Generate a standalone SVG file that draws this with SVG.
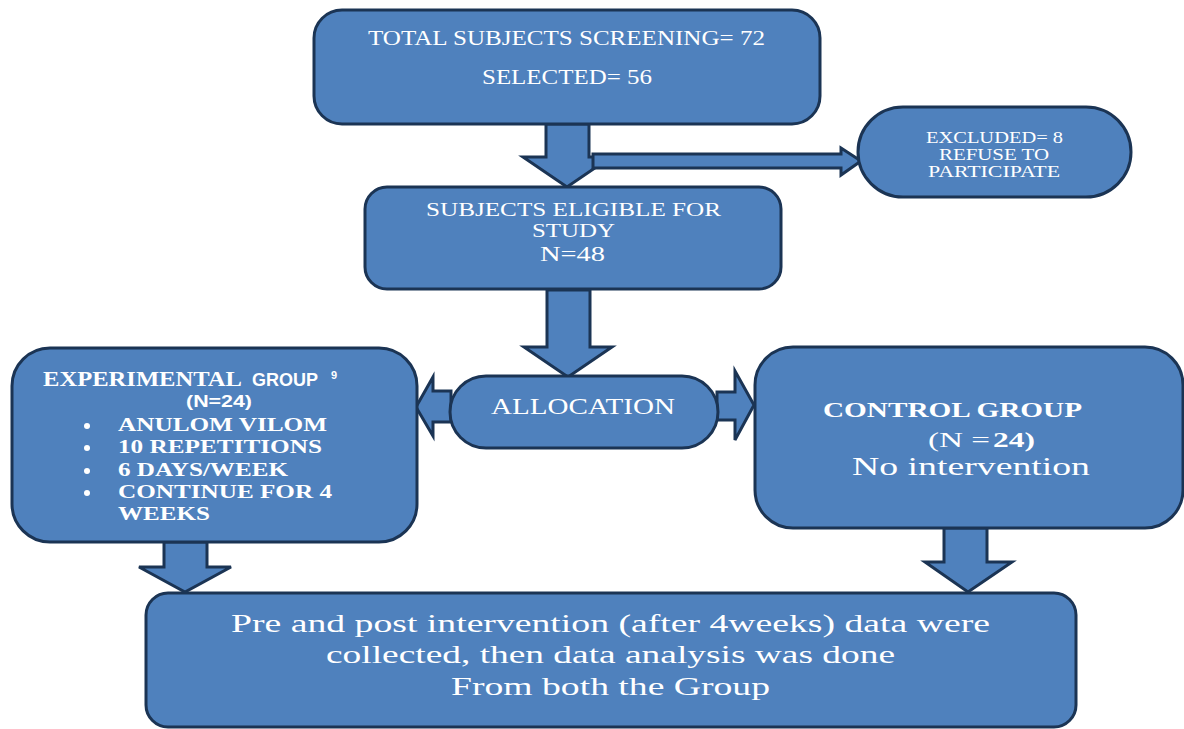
<svg xmlns="http://www.w3.org/2000/svg" width="1184" height="729" viewBox="0 0 1184 729">
<style>
.box{fill:#4F81BD;stroke:#1B3454;stroke-width:3}
.arr{fill:#4F81BD;stroke:#1B3454;stroke-width:3;stroke-linejoin:miter}
text{fill:#FFFFFF;font-family:"Liberation Serif","Times New Roman",serif}
.b{font-weight:bold}
.s{font-family:"Liberation Sans",Arial,sans-serif;font-weight:bold}
</style>
<rect width="1184" height="729" fill="#FFFFFF"/>
<g id="connectors">
<polygon class="arr" points="546,124 589,124 589,157 611,157 567,187 523,157 546,157"/>
<polygon class="arr" points="593,154 841,154 841,148 861,161 841,175 841,168 593,168"/>
<polygon class="arr" points="547,290 590,290 590,347 612,347 568,377 524,347 547,347"/>
<polygon class="arr" points="451,391 433,391 433,377 416,407 433,436 433,422 451,422"/>
<polygon class="arr" points="717,392 735,392 735,371 754,405 735,440 735,420 717,420"/>
<polygon class="arr" points="164,542 207,542 207,567 231,567 185,592 139,567 164,567"/>
<polygon class="arr" points="944,528 987,528 987,562 1012,562 968,592 925,562 944,562"/>
</g>
<g id="node-screening">
<rect class="box" x="314" y="10" width="506" height="114" rx="28"/>
<text x="368" y="45" font-size="20" textLength="397" lengthAdjust="spacingAndGlyphs">TOTAL SUBJECTS SCREENING= 72</text>
<text x="482" y="84" font-size="20" textLength="170" lengthAdjust="spacingAndGlyphs">SELECTED= 56</text>
</g>
<g id="node-excluded">
<rect class="box" x="858" y="107" width="273" height="90" rx="45"/>
<text x="926" y="143" font-size="16" textLength="137" lengthAdjust="spacingAndGlyphs">EXCLUDED= 8</text>
<text x="939" y="160" font-size="16" textLength="110" lengthAdjust="spacingAndGlyphs">REFUSE TO</text>
<text x="928" y="177" font-size="16" textLength="132" lengthAdjust="spacingAndGlyphs">PARTICIPATE</text>
</g>
<g id="node-eligible">
<rect class="box" x="365" y="187" width="416" height="102" rx="22"/>
<text x="426" y="216" font-size="19" textLength="295" lengthAdjust="spacingAndGlyphs">SUBJECTS ELIGIBLE FOR</text>
<text x="532" y="237" font-size="19" textLength="83" lengthAdjust="spacingAndGlyphs">STUDY</text>
<text x="540" y="261" font-size="21" textLength="65" lengthAdjust="spacingAndGlyphs">N=48</text>
</g>
<g id="node-allocation">
<rect class="box" x="450" y="376" width="268" height="72" rx="36"/>
<text x="491" y="414" font-size="23" textLength="184" lengthAdjust="spacingAndGlyphs">ALLOCATION</text>
</g>
<g id="node-experimental">
<rect class="box" x="12" y="348" width="405" height="194" rx="38"/>
<text class="b" x="43" y="386" font-size="20" textLength="199" lengthAdjust="spacingAndGlyphs">EXPERIMENTAL</text>
<text class="s" x="252" y="386" font-size="17.5" textLength="66" lengthAdjust="spacingAndGlyphs">GROUP</text>
<text class="s" x="331" y="379" font-size="11">9</text>
<text class="s" x="186" y="407" font-size="17" textLength="66" lengthAdjust="spacingAndGlyphs">(N=24)</text>
<g fill="#FFFFFF">
<circle cx="87" cy="426" r="3"/>
<circle cx="87" cy="448" r="3"/>
<circle cx="87" cy="471" r="3"/>
<circle cx="87" cy="493" r="3"/>
</g>
<text class="b" x="118" y="431" font-size="18.5" textLength="209" lengthAdjust="spacingAndGlyphs">ANULOM VILOM</text>
<text class="b" x="118" y="453" font-size="18.5" textLength="204" lengthAdjust="spacingAndGlyphs">10 REPETITIONS</text>
<text class="b" x="118" y="476" font-size="18.5" textLength="170" lengthAdjust="spacingAndGlyphs">6 DAYS/WEEK</text>
<text class="b" x="118" y="498" font-size="18.5" textLength="214" lengthAdjust="spacingAndGlyphs">CONTINUE FOR 4</text>
<text class="b" x="118" y="520" font-size="18.5" textLength="92" lengthAdjust="spacingAndGlyphs">WEEKS</text>
</g>
<g id="node-control">
<rect class="box" x="755" y="347" width="428" height="181" rx="38"/>
<text class="b" x="823" y="417" font-size="21" textLength="259" lengthAdjust="spacingAndGlyphs">CONTROL GROUP</text>
<text x="928" y="447" font-size="21" textLength="62" lengthAdjust="spacingAndGlyphs">(N =</text>
<text class="b" x="993" y="447" font-size="21" textLength="42" lengthAdjust="spacingAndGlyphs">24)</text>
<text x="852" y="475" font-size="25" textLength="238" lengthAdjust="spacingAndGlyphs">No intervention</text>
</g>
<g id="node-analysis">
<rect class="box" x="146" y="593" width="930" height="134" rx="22"/>
<text x="231" y="632" font-size="26" textLength="759" lengthAdjust="spacingAndGlyphs">Pre and post intervention (after 4weeks) data were</text>
<text x="326" y="663" font-size="26" textLength="569" lengthAdjust="spacingAndGlyphs">collected, then data analysis was done</text>
<text x="451" y="695" font-size="26" textLength="319" lengthAdjust="spacingAndGlyphs">From both the Group</text>
</g>
</svg>
